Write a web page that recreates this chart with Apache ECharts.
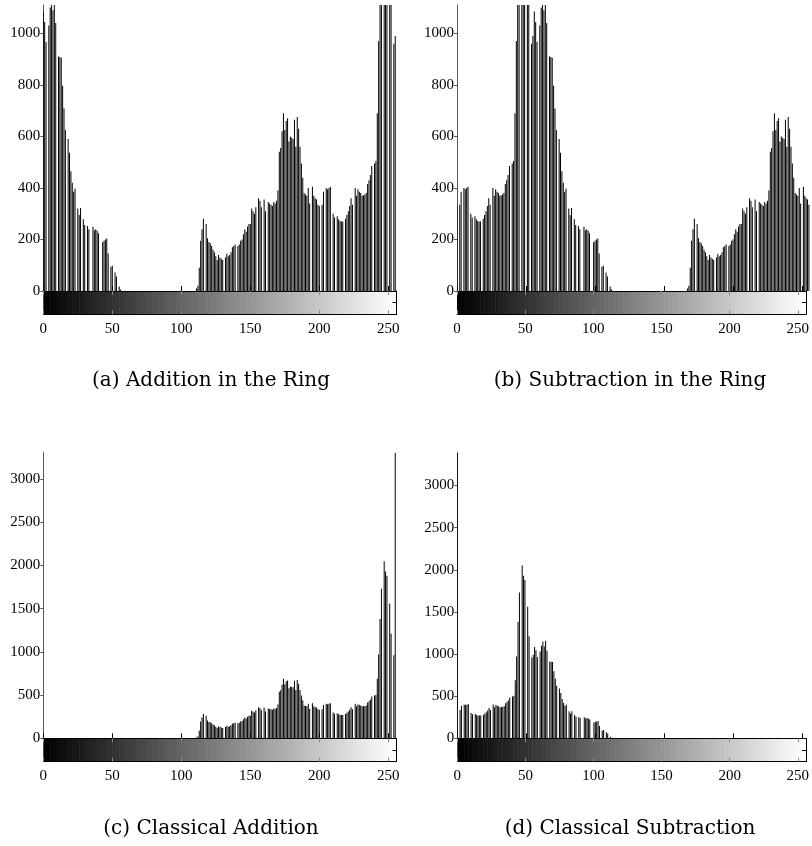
<!DOCTYPE html>
<html>
<head>
<meta charset="utf-8">
<script src="https://cdn.jsdelivr.net/npm/echarts@6/dist/echarts.min.js"></script>
<style>
    html, body { margin: 0; padding: 0; background: #fff; }
    #main { width: 812px; height: 846px; }
</style>
</head>
<body>
<div id="main"></div>
<script>
// grey level histogram of the pixel difference, split in the ranges the panels show
// distNeg: levels -89..-1, distLow: levels 0..55, distHigh: levels 56..112
const distNeg = [
    10, 20, 90, 195, 240, 280, 0, 260, 205, 190,
    185, 175, 160, 150, 135, 120, 140, 130, 125, 120,
    0, 130, 145, 135, 140, 150, 170, 175, 180, 0,
    175, 180, 195, 200, 220, 240, 230, 250, 260, 260,
    320, 310, 300, 325, 0, 360, 350, 325, 0, 355,
    310, 0, 345, 340, 335, 330, 345, 340, 350, 390,
    540, 555, 620, 690, 625, 660, 670, 580, 600, 595,
    590, 665, 560, 675, 630, 560, 495, 440, 380, 375,
    370, 400, 340, 0, 405, 370, 360, 355, 335
];
const distLow = [
    330, 0, 335, 385, 0, 400, 395, 400, 405, 0,
    300, 285, 0, 290, 278, 272, 270, 270, 0, 280,
    295, 310, 330, 360, 335, 0, 400, 370, 395, 385,
    380, 370, 372, 375, 380, 415, 430, 450, 485, 0,
    495, 505, 690, 970, 1380, 1730, 0, 2050, 1930, 1880,
    0, 1560, 1210, 0, 960, 990
];
const distHigh = [
    1085, 1044, 966, 0, 1030, 1100, 1150, 1090, 1158, 1040,
    0, 910, 908, 905, 797, 708, 625, 0, 590, 537,
    465, 420, 385, 398, 0, 320, 295, 322, 0, 278,
    256, 0, 252, 240, 0, 0, 249, 236, 240, 234,
    224, 0, 0, 189, 195, 200, 204, 146, 0, 94,
    98, 0, 72, 56, 0, 17, 6
];
// counts piled into the end bins by clipping (far above the axes)
const addOverflow = 21000;
const subUnderflow = 22000;

const xTicks = [0, 50, 100, 150, 200, 250];
const yTicksRing = [0, 200, 400, 600, 800, 1000];
const yTicksClassic = [0, 500, 1000, 1500, 2000, 2500, 3000];
const captions = [
    '(a) Addition in the Ring',
    '(b) Subtraction in the Ring',
    '(c) Classical Addition',
    '(d) Classical Subtraction'
];

// put segments into 256 bins
function place(bins, start, values) {
    values.forEach(function (v, i) { bins[start + i] = v; });
    return bins;
}
function emptyBins() {
    return new Array(256).fill(0);
}
let ringAdd = emptyBins();
place(ringAdd, 0, distHigh);
place(ringAdd, 111, distNeg);
place(ringAdd, 200, distLow);

let ringSub = emptyBins();
place(ringSub, 0, distLow);
place(ringSub, 56, distHigh);
place(ringSub, 167, distNeg);

let classAdd = emptyBins();
place(classAdd, 111, distNeg);
place(classAdd, 200, distLow.slice(0, 55));
classAdd[255] = addOverflow;

let classSub = emptyBins();
place(classSub, 1, distLow.slice(1));
place(classSub, 56, distHigh);
classSub[0] = subUnderflow;

const grayLevels = emptyBins().map(function (v, i) { return i; });

const panels = [
    { bins: ringAdd, left: 43.3, top: 5, zero: 291, ymax: 1110, yTicks: yTicksRing, capX: 211, capY: 381 },
    { bins: ringSub, left: 457, top: 5, zero: 291, ymax: 1110, yTicks: yTicksRing, capX: 630, capY: 381 },
    { bins: classAdd, left: 43.3, top: 452.7, zero: 738.3, ymax: 3305, yTicks: yTicksClassic, capX: 211, capY: 829 },
    { bins: classSub, left: 457.3, top: 452.7, zero: 738.3, ymax: 3390, yTicks: yTicksClassic, capX: 630, capY: 829 }
];
const plotWidth = 353.3;
const stripHeight = 23.3;
const labelFont = 'Liberation Serif';
const plain = function (v) { return String(v); };

let myChart = echarts.init(document.getElementById('main'), null, { renderer: 'canvas' });

let grid = [], xAxis = [], yAxis = [], series = [], graphic = [];
panels.forEach(function (p, k) {
    let g = grid.length;
    grid.push({ left: p.left, top: p.top, width: plotWidth, height: p.zero - p.top });
    grid.push({ left: p.left, top: p.zero, width: plotWidth, height: stripHeight });

    // histogram axes
    xAxis.push({
        type: 'value', gridIndex: g, min: 0, max: 256,
        axisLine: { show: false, onZero: false },
        axisTick: { show: true, inside: true, length: 5, customValues: xTicks, lineStyle: { color: '#000' } },
        axisLabel: { show: false },
        splitLine: { show: false }
    });
    yAxis.push({
        type: 'value', gridIndex: g, min: 0, max: p.ymax,
        axisLine: { show: true, onZero: false, lineStyle: { color: '#555' } },
        axisTick: { show: true, inside: false, length: 3, customValues: p.yTicks, lineStyle: { color: '#555' } },
        axisLabel: { show: true, customValues: p.yTicks, formatter: plain, margin: 3, color: '#000', fontFamily: labelFont, fontSize: 15 },
        splitLine: { show: false }
    });
    // colour strip axes
    xAxis.push({
        type: 'value', gridIndex: g + 1, min: 0, max: 256, position: 'bottom', z: 5,
        axisLine: { show: true, onZero: false, lineStyle: { color: '#000' } },
        axisTick: { show: true, inside: true, length: 4, customValues: xTicks, lineStyle: { color: '#888' } },
        axisLabel: { show: true, customValues: xTicks, formatter: plain, margin: 7, color: '#000', fontFamily: labelFont, fontSize: 15 },
        splitLine: { show: false }
    });
    xAxis.push({
        type: 'value', gridIndex: g + 1, min: 0, max: 256, position: 'top', z: 5,
        axisLine: { show: true, onZero: false, lineStyle: { color: '#000' } },
        axisTick: { show: true, inside: true, length: 4, customValues: xTicks, lineStyle: { color: '#888' } },
        axisLabel: { show: false },
        splitLine: { show: false }
    });
    yAxis.push({
        type: 'value', gridIndex: g + 1, min: 0, max: 1, position: 'right', z: 5,
        axisLine: { show: true, onZero: false, lineStyle: { color: '#000' } },
        axisTick: { show: true, inside: true, length: 4, customValues: [0.5], lineStyle: { color: '#000' } },
        axisLabel: { show: false }, splitLine: { show: false }
    });
    let xi = xAxis.length - 3, yi = yAxis.length - 2;

    series.push({
        type: 'custom',
        xAxisIndex: xi, yAxisIndex: yi,
        clip: true,
        data: p.bins.map(function (v, i) { return [i, v]; }),
        encode: { x: 0, y: 1 },
        renderItem: function (params, api) {
            let v = api.value(1);
            if (!v) return;
            let base = api.coord([api.value(0), 0]);
            let tip = api.coord([api.value(0), Math.min(v, p.ymax)]);
            return {
                type: 'rect',
                shape: { x: base[0] - 0.5, y: tip[1], width: 1, height: base[1] - tip[1] },
                style: { fill: '#000' }
            };
        }
    });
    series.push({
        type: 'custom',
        xAxisIndex: xi + 1, yAxisIndex: yi + 1,
        z: 1,
        data: grayLevels.map(function (lv) { return [lv, 1]; }),
        encode: { x: 0, y: 1 },
        renderItem: function (params, api) {
            let lv = api.value(0);
            let x0 = api.coord([lv, 0]);
            let x1 = api.coord([lv + 1, 1]);
            return {
                type: 'rect',
                shape: { x: x0[0], y: x1[1], width: x1[0] - x0[0] + 0.6, height: x0[1] - x1[1] },
                style: { fill: 'rgb(' + lv + ',' + lv + ',' + lv + ')' }
            };
        }
    });
    graphic.push({
        type: 'text', x: p.capX, y: p.capY,
        style: { text: captions[k], align: 'center', verticalAlign: 'middle', fill: '#000', font: '20px "DejaVu Serif"' }
    });
});

myChart.setOption({
    animation: false,
    backgroundColor: '#fff',
    grid: grid,
    xAxis: xAxis,
    yAxis: yAxis,
    series: series,
    graphic: graphic
});
</script>
</body>
</html>
